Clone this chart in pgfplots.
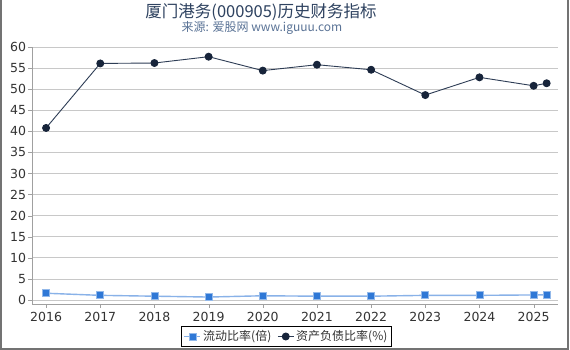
\documentclass[border=0pt]{standalone}
\usepackage{pgfplots}
\pgfplotsset{compat=1.18}
\usepackage{fontspec}
\setmainfont{DejaVu Sans}
\newfontfamily\cjk{Noto Sans CJK SC}
\definecolor{titlec}{HTML}{2E4260}
\definecolor{subc}{HTML}{5A7396}
\definecolor{bluel}{HTML}{3A7FD8}
\definecolor{bluem}{HTML}{2F78D6}
\definecolor{navy}{HTML}{17243A}
\definecolor{navyl}{HTML}{2E3D55}
\definecolor{gridc}{HTML}{C8C8C8}
\definecolor{axc}{HTML}{A0A0A0}
\definecolor{tickc}{HTML}{333333}
\begin{document}
\begin{tikzpicture}[x=1pt,y=1pt]
\useasboundingbox (0,0) rectangle (570,350);
\fill[white] (0,0) rectangle (570,350);
\draw[color=gray!90!black,line width=2pt] (1,350) -- (1,1) -- (568,1) -- (568,350);
\node[font=\cjk\fontsize{16.5}{18}\selectfont,text=titlec] at (261,338) {厦门港务(000905)历史财务指标};
\node[font=\cjk\fontsize{12}{13}\selectfont,text=subc] at (262,322) {来源: 爱股网 www.iguuu.com};
\begin{axis}[
  at={(32pt,46pt)}, anchor=south west,
  width=526pt, height=257pt, scale only axis,
  xmin=2015.74, xmax=2025.45,
  ymin=-0.95, ymax=60,
  axis x line*=bottom, axis y line*=left,
  axis line style={color=axc},
  xtick={2016,2017,2018,2019,2020,2021,2022,2023,2024,2025},
  ytick={0,5,10,15,20,25,30,35,40,45,50,55,60},
  ymajorgrids, grid style={color=gridc, line width=0.8pt},
  tick style={color=axc},
  tick align=outside, major tick length=4pt,
  /pgf/number format/1000 sep={},
  /pgf/number format/assume math mode=true,
  ticklabel style={font=\fontsize{12.5}{14}\selectfont, text=tickc},
  xticklabel style={yshift=-1pt},
  yticklabel style={xshift=1.5pt},
  legend style={at={(0.484,-0.1265)}, anchor=center, draw=black, line width=0.8pt,
    font=\cjk\fontsize{12}{14}\selectfont, text=tickc, inner sep=2pt,
    /tikz/every even column/.append style={column sep=4pt}},
  legend columns=2,
  legend image code/.code={\draw[#1] (0pt,0pt) -- (16pt,0pt); \draw[#1,only marks] plot coordinates {(8pt,0pt)};},
]
\addplot[color=bluel!60, line width=1.4pt, mark=square*, mark size=3.5pt,
  mark options={fill=bluem, draw=bluel!55, line width=0.8pt}]
coordinates {(2016,1.6) (2017,1.1) (2018,0.9) (2019,0.7) (2020,1.0) (2021,0.9) (2022,0.9) (2023,1.1) (2024,1.1) (2025,1.2) (2025.24,1.2)};
\addlegendentry{流动比率(倍)}
\addplot[color=navyl, line width=0.9pt, mark=*, mark size=3.5pt,
  mark options={fill=navy, draw=navy}]
coordinates {(2016,40.8) (2017,56.1) (2018,56.2) (2019,57.7) (2020,54.4) (2021,55.8) (2022,54.6) (2023,48.6) (2024,52.8) (2025,50.8) (2025.24,51.4)};
\addlegendentry{资产负债比率(\%)}
\end{axis}
\end{tikzpicture}
\end{document}
